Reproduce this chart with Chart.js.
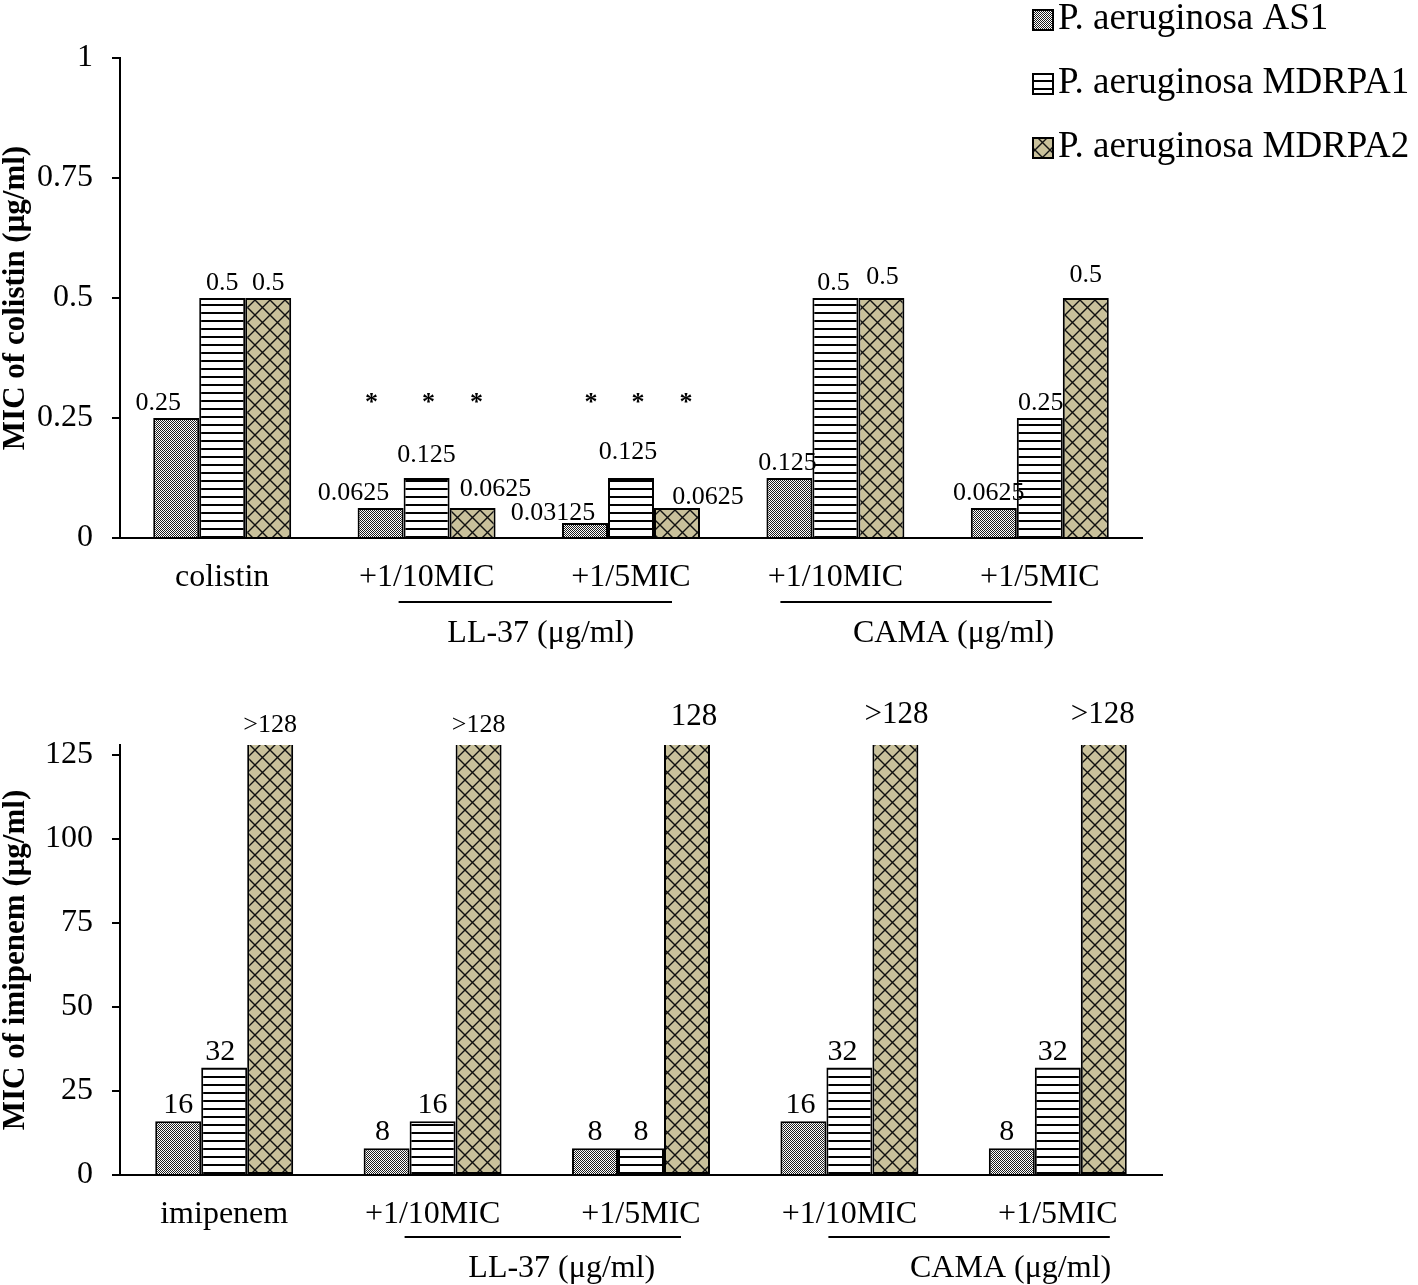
<!DOCTYPE html>
<html>
<head>
<meta charset="utf-8">
<script src="https://cdn.jsdelivr.net/npm/chart.js@4/dist/chart.umd.min.js"></script>
<style>
  body { margin: 0; background: #fff; }
  canvas { display: block; }
</style>
</head>
<body>
<canvas id="colistinChart" width="1418" height="660"></canvas>
<canvas id="imipenemChart" width="1418" height="625"></canvas>
<script>
// -------------------------------
// Data
// -------------------------------
const seriesNames = ["P. aeruginosa AS1", "P. aeruginosa MDRPA1", "P. aeruginosa MDRPA2"];

const colistinCategories = ["colistin", "+1/10MIC", "+1/5MIC", "+1/10MIC", "+1/5MIC"];
const colistinAS1 = [0.25, 0.0625, 0.03125, 0.125, 0.0625];
const colistinMDRPA1 = [0.5, 0.125, 0.125, 0.5, 0.25];
const colistinMDRPA2 = [0.5, 0.0625, 0.0625, 0.5, 0.5];
const colistinTicks = [0, 0.25, 0.5, 0.75, 1];
const colistinStars = [false, true, true, false, false];
const starLevel = 0.2875;

const imipenemCategories = ["imipenem", "+1/10MIC", "+1/5MIC", "+1/10MIC", "+1/5MIC"];
const imipenemAS1 = [16, 8, 8, 16, 8];
const imipenemMDRPA1 = [32, 16, 8, 32, 32];
const imipenemMDRPA2 = [128, 128, 128, 128, 128];
const imipenemMDRPA2Text = [">128", ">128", "128", ">128", ">128"];
const imipenemTicks = [0, 25, 50, 75, 100, 125];

const groupLabels = ["LL-37 (μg/ml)", "CAMA (μg/ml)"];

// -------------------------------
// Label nudges (layout only)
// -------------------------------
const colistinLabelDx = [[-18, -27, -32, -2, -5], [0, 0, -3, -2, 1], [0, 23, 31, 1, 0]];
const colistinLabelDy = [[0, 0, 5, 0, 0], [0, -8, -11, 0, 0], [0, -4, 4, -6, -8]];
const colistinStarDx = [[0, -9, 6, 0, 0], [0, 2, 7, 0, 0], [0, 4, 9, 0, 0]];
const imipenemLabelDx = [[0, -4, 0, -3, -5], [-4, 0, 0, -7, -5], [0, 0, 7, 1, -1]];
const imipenemLabelDy = [[0, 0, 0, 0, 0], [0, 0, 0, 0, 0], [-5, -5, -12, -14, -14]];
const imipenemTopFont = [26, 26, 31, 31, 31];

const FONT = "'Liberation Serif', 'Times New Roman', serif";
Chart.defaults.font.family = FONT;
Chart.defaults.color = "#000";

// -------------------------------
// Fill patterns
// -------------------------------
function makePattern(kind) {
  const c = document.createElement("canvas");
  const ctx = c.getContext("2d");
  if (kind === "dots") {
    c.width = 2; c.height = 2;
    ctx.fillStyle = "#fff";
    ctx.fillRect(0, 0, 2, 2);
    ctx.fillStyle = "#1e1e1e";
    ctx.fillRect(0, 0, 1, 1);
    ctx.fillRect(1, 1, 1, 1);
  } else if (kind === "lines") {
    c.width = 8; c.height = 8;
    ctx.fillStyle = "#fff";
    ctx.fillRect(0, 0, 8, 8);
    ctx.fillStyle = "#000";
    ctx.fillRect(0, 0, 8, 2);
  } else {
    c.width = 15; c.height = 15;
    ctx.fillStyle = "#c9c19b";
    ctx.fillRect(0, 0, 15, 15);
    ctx.strokeStyle = "#111";
    ctx.lineWidth = 1.4;
    ctx.beginPath();
    ctx.moveTo(-1, -1); ctx.lineTo(16, 16);
    ctx.moveTo(16, -1); ctx.lineTo(-1, 16);
    ctx.stroke();
  }
  return ctx.createPattern(c, "repeat");
}
const fills = [makePattern("dots"), makePattern("lines"), makePattern("cross")];

// -------------------------------
// Plugins
// -------------------------------
const valueLabels = {
  id: "valueLabels",
  afterDatasetsDraw(chart, args, opts) {
    const ctx = chart.ctx;
    ctx.save();
    ctx.fillStyle = "#000";
    ctx.textAlign = "center";
    ctx.textBaseline = "alphabetic";
    chart.data.datasets.forEach((ds, i) => {
      chart.getDatasetMeta(i).data.forEach((bar, j) => {
        const size = opts.size(i, j);
        ctx.font = `${size}px ${FONT}`;
        ctx.fillText(opts.text(i, j), bar.x + opts.dx[i][j], bar.y - 8 + opts.dy[i][j]);
      });
    });
    if (opts.stars) {
      const y = chart.scales.y.getPixelForValue(starLevel);
      ctx.font = `bold 26px ${FONT}`;
      ctx.textBaseline = "middle";
      chart.data.datasets.forEach((ds, i) => {
        chart.getDatasetMeta(i).data.forEach((bar, j) => {
          if (opts.stars[j]) ctx.fillText("*", bar.x + opts.starDx[i][j], y + 3);
        });
      });
    }
    ctx.restore();
  },
};

const groupBrackets = {
  id: "groupBrackets",
  afterDraw(chart, args, opts) {
    const ctx = chart.ctx;
    const x = chart.scales.x;
    ctx.save();
    ctx.strokeStyle = "#000";
    ctx.lineWidth = 2;
    ctx.fillStyle = "#000";
    ctx.font = `32px ${FONT}`;
    ctx.textAlign = "center";
    ctx.textBaseline = "middle";
    opts.groups.forEach((g) => {
      const x0 = x.getPixelForValue(g.from) + g.x0;
      const x1 = x.getPixelForValue(g.to) + g.x1;
      ctx.beginPath();
      ctx.moveTo(x0, opts.lineY);
      ctx.lineTo(x1, opts.lineY);
      ctx.stroke();
      const mid = (x.getPixelForValue(g.from) + x.getPixelForValue(g.to)) / 2;
      ctx.fillText(g.text, mid + g.tx, opts.textY);
    });
    ctx.restore();
  },
};

const cornerLegend = {
  id: "cornerLegend",
  afterDraw(chart) {
    const ctx = chart.ctx;
    ctx.save();
    ctx.font = `37px ${FONT}`;
    ctx.textBaseline = "middle";
    ctx.textAlign = "left";
    seriesNames.forEach((name, i) => {
      const cy = 20 + i * 64;
      ctx.fillStyle = fills[i];
      ctx.fillRect(1033, cy - 10, 20, 20);
      ctx.strokeStyle = "#000";
      ctx.lineWidth = 2;
      ctx.strokeRect(1033, cy - 10, 20, 20);
      ctx.fillStyle = "#000";
      ctx.fillText(name, 1058, cy - 1);
    });
    ctx.restore();
  },
};

// -------------------------------
// Shared axis options
// -------------------------------
function yAxis(title, min, max, ticks) {
  return {
    min, max,
    afterFit(scale) { scale.width = 120; },
    afterBuildTicks(scale) { scale.ticks = ticks.map((v) => ({ value: v })); },
    border: { color: "#000", width: 2 },
    grid: { drawOnChartArea: false, drawTicks: true, tickLength: 8, color: "#000", lineWidth: 2 },
    ticks: { font: { size: 32 }, padding: 19, color: "#000", callback: (v) => String(v) },
    title: { display: true, text: title, font: { size: 31, weight: "bold", lineHeight: 1 }, padding: 0, color: "#000" },
  };
}

function xAxis(height) {
  return {
    afterFit(scale) { scale.height = height; },
    border: { color: "#000", width: 2 },
    grid: { display: false },
    ticks: { font: { size: 32 }, padding: 12, color: "#000", maxRotation: 0, autoSkip: false },
  };
}

function barSet(label, data, i, extra) {
  return Object.assign({
    label, data,
    backgroundColor: fills[i],
    borderColor: "#000",
    borderWidth: 2,
    barPercentage: 1,
  }, extra || {});
}

// -------------------------------
// Colistin chart
// -------------------------------
new Chart(document.getElementById("colistinChart"), {
  type: "bar",
  data: {
    labels: colistinCategories,
    datasets: [
      barSet(seriesNames[0], colistinAS1, 0, { categoryPercentage: 0.675 }),
      barSet(seriesNames[1], colistinMDRPA1, 1, { categoryPercentage: 0.675 }),
      barSet(seriesNames[2], colistinMDRPA2, 2, { categoryPercentage: 0.675 }),
    ],
  },
  options: {
    responsive: false,
    animation: false,
    layout: { padding: { top: 58, right: 276, left: 0, bottom: 0 } },
    plugins: {
      legend: { display: false },
      tooltip: { enabled: false },
      valueLabels: {
        text: (i, j) => String([colistinAS1, colistinMDRPA1, colistinMDRPA2][i][j]),
        size: () => 26,
        dx: colistinLabelDx,
        dy: colistinLabelDy,
        stars: colistinStars,
        starDx: colistinStarDx,
      },
      groupBrackets: {
        lineY: 602,
        textY: 634,
        groups: [
          { text: groupLabels[0], from: 1, to: 2, x0: -28, x1: 41, tx: 12 },
          { text: groupLabels[1], from: 3, to: 4, x0: -55, x1: 12, tx: 16 },
        ],
      },
    },
    scales: {
      x: xAxis(122),
      y: yAxis("MIC of colistin (μg/ml)", 0, 1, colistinTicks),
    },
  },
  plugins: [valueLabels, groupBrackets, cornerLegend],
});

// -------------------------------
// Imipenem chart
// -------------------------------
new Chart(document.getElementById("imipenemChart"), {
  type: "bar",
  data: {
    labels: imipenemCategories,
    datasets: [
      barSet(seriesNames[0], imipenemAS1, 0, { categoryPercentage: 0.662 }),
      barSet(seriesNames[1], imipenemMDRPA1, 1, { categoryPercentage: 0.662 }),
      barSet(seriesNames[2], imipenemMDRPA2, 2, { categoryPercentage: 0.662, borderSkipped: "top" }),
    ],
  },
  options: {
    responsive: false,
    animation: false,
    layout: { padding: { top: 85, right: 256, left: 0, bottom: 0 } },
    plugins: {
      legend: { display: false },
      tooltip: { enabled: false },
      valueLabels: {
        text: (i, j) => (i === 2 ? imipenemMDRPA2Text[j] : String([imipenemAS1, imipenemMDRPA1][i][j])),
        size: (i, j) => (i === 2 ? imipenemTopFont[j] : 30),
        dx: imipenemLabelDx,
        dy: imipenemLabelDy,
      },
      groupBrackets: {
        lineY: 577,
        textY: 609,
        groups: [
          { text: groupLabels[0], from: 1, to: 2, x0: -28, x1: 40, tx: 25 },
          { text: groupLabels[1], from: 3, to: 4, x0: -21, x1: 52, tx: 57 },
        ],
      },
    },
    scales: {
      x: xAxis(110),
      y: yAxis("MIC of imipenem (μg/ml)", 0, 128, imipenemTicks),
    },
  },
  plugins: [valueLabels, groupBrackets],
});
</script>
</body>
</html>
